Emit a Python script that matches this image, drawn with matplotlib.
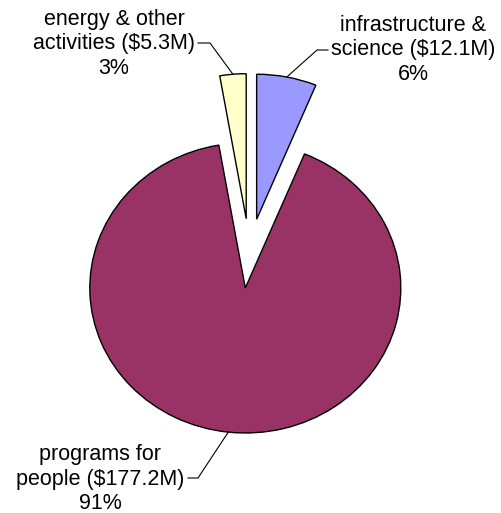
import matplotlib.pyplot as plt
import numpy as np

labels = ['infrastructure &\nscience ($12.1M)\n6%',
          'programs for\npeople ($177.2M)\n91%',
          'energy & other\nactivities ($5.3M)\n3%']
values = [12.1, 177.2, 5.3]
colors = ['#9999FF', '#993366', '#FFFFCC']

W, H = 501, 513
fig = plt.figure(figsize=(W / 100, H / 100), dpi=100)
ax = fig.add_axes([0, 0, 1, 1])

wedges, _ = ax.pie(values, colors=colors, explode=[0.24] * 3, startangle=90,
                   counterclock=False, radius=1,
                   wedgeprops=dict(edgecolor='black', linewidth=1))

# pie is a bit wider than tall in the original
sx, sy = 155.5, 145.0
cx, cy = 249.4, 253.4
ax.set_aspect('auto')
ax.set_xlim(-cx / sx, (W - cx) / sx)
ax.set_ylim(-(H - cy) / sy, cy / sy)
ax.axis('off')


def px(x, y):
    return (x - cx) / sx, (cy - y) / sy


# text centre, dash start, dash end (pixels)
text_pos = [(413, 50), (100, 479), (114, 44)]
dash = [((328, 50), (317, 50)), ((188, 478), (198, 478)), ((198, 43), (210, 43))]

for w, lab, tp, (d0, d1) in zip(wedges, labels, text_pos, dash):
    mid = np.deg2rad((w.theta1 + w.theta2) / 2)
    ex = w.center[0] + w.r * np.cos(mid)
    ey = w.center[1] + w.r * np.sin(mid)
    p0 = px(*d0)
    p1 = px(*d1)
    ax.plot([p0[0], p1[0], ex], [p0[1], p1[1], ey], color='black', lw=0.8)
    tx, ty = px(*tp)
    ax.text(tx, ty, lab, ha='center', va='center', fontsize=15.5,
            family='Liberation Sans', linespacing=1.2)

plt.savefig('out.png', dpi=100)
